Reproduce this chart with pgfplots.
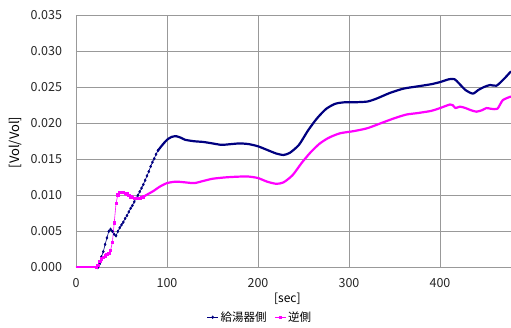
\documentclass[border=0pt]{standalone}
\usepackage{fontspec}
\setmainfont{Noto Sans CJK JP}
\usepackage{pgfplots}
\pgfplotsset{compat=1.18}
\definecolor{navyb}{RGB}{0,0,128}
\definecolor{mag}{RGB}{255,0,255}
\begin{document}
\begin{tikzpicture}
\path[use as bounding box] (-76pt,-59.5pt) rectangle (435pt,267.5pt);
\begin{axis}[
  at={(0,0)}, anchor=south west,
  scale only axis, width=435pt, height=252.5pt,
  xmin=0, xmax=478, ymin=0, ymax=0.035,
  xtick={0,100,200,300,400},
  ytick={0,0.005,0.010,0.015,0.020,0.025,0.030,0.035},
  scaled y ticks=false,
  yticklabel style={/pgf/number format/fixed,/pgf/number format/fixed zerofill,/pgf/number format/precision=3,xshift=-10.5pt},
  xticklabel style={yshift=-7.5pt},
  /pgf/number format/assume math mode=true,
  ticklabel style={font=\fontsize{12.5}{14}\selectfont, text=black!85},
  major tick length=0pt,
  grid=major,
  major grid style={draw=black!40, line width=0.7pt},
  axis line style={draw=none},
  xlabel={[sec]},
  xlabel style={at={(axis description cs:0.486,-0.122)}, anchor=center, font=\fontsize{12}{14}\selectfont},
  ylabel={[Vol/Vol]},
  ylabel style={at={(axis description cs:-0.14,0.495)}, anchor=center, font=\fontsize{13}{15}\selectfont},
  legend style={at={(axis description cs:0.423,-0.197)}, anchor=center, draw=none, fill=none, font=\fontsize{11.5}{13}\selectfont, legend columns=2, inner sep=1pt, /tikz/every even column/.append style={column sep=6pt}},
  legend image code/.code={\draw[#1] (0pt,0pt) -- (11pt,0pt); \path[#1, only marks] plot coordinates {(5.5pt,0pt)};},
  clip=true,
]
% blue steep section with markers
\addplot[navyb, line width=0.6pt, mark=diamond*, mark size=1.3pt] coordinates {
(24,0.0000)(26,0.0005)(28,0.0015)(30,0.0022)(32,0.0032)(34,0.0041)(36,0.0050)(38,0.0053)(40,0.0050)(42,0.0046)(44,0.0044)(46,0.0050)(48,0.0055)(50,0.0059)(52,0.0063)(54,0.0068)(56,0.0072)(58,0.0077)(60,0.0082)(62,0.0086)(64,0.0091)(66,0.0096)(68,0.0100)(70,0.0105)(72,0.0110)(74,0.0115)(76,0.0121)(78,0.0127)(80,0.0133)(82,0.0140)(84,0.0146)(86,0.0151)(88,0.0157)(90,0.0162)
};
\addlegendentry{給湯器側}
% magenta steep section with markers
\addplot[mag, line width=0.6pt, mark=square*, mark size=1.2pt] coordinates {
(22,0.0000)(24,0.0003)(26,0.0009)(28,0.0012)(30,0.0014)(32,0.0016)(34,0.0018)(36,0.0020)(38,0.0024)(40,0.0035)(42,0.0062)(44,0.0089)(46,0.0101)(48,0.0104)(50,0.0104)(52,0.0104)(54,0.0103)(56,0.0102)(58,0.0100)(60,0.0098)(62,0.0097)(64,0.0096)(66,0.0096)(68,0.0096)(70,0.0096)(72,0.0097)(74,0.0098)
};
\addlegendentry{逆側}
% thick smooth parts
\addplot[forget plot, navyb, line width=2.2pt, line join=round] coordinates {(0,0)(24,0)};
\addplot[forget plot, navyb, line width=2.2pt, line join=round, smooth, tension=0.4] coordinates {
(90,0.0162)(95,0.0170)(100,0.0177)(105,0.0181)(110,0.0182)(115,0.0180)(120,0.0177)(130,0.0175)(140,0.0174)(150,0.0172)(160,0.0170)(170,0.0171)(180,0.0172)(190,0.0171)(200,0.0168)(210,0.0163)(220,0.0158)(228,0.0156)(235,0.0159)(245,0.0170)(255,0.0190)(265,0.0207)(275,0.0220)(285,0.0227)(295,0.0229)(305,0.0229)(320,0.0230)(330,0.0234)(345,0.0242)(360,0.0248)(375,0.0251)(390,0.0254)(400,0.0257)(410,0.0261)(416,0.0261)(421,0.0255)(428,0.0246)(436,0.0241)(442,0.0246)(448,0.0250)(455,0.0253)(462,0.0252)(470,0.0261)(478,0.0272)
};
\addplot[forget plot, mag, line width=2.2pt, line join=round] coordinates {(0,0)(22,0)};
\addplot[forget plot, mag, line width=2.2pt, line join=round, smooth, tension=0.4] coordinates {
(74,0.0098)(78,0.0101)(85,0.0106)(92,0.0112)(100,0.0117)(110,0.0119)(120,0.0118)(130,0.0117)(140,0.0120)(150,0.0123)(165,0.0125)(180,0.0126)(190,0.0126)(200,0.0124)(210,0.0119)(220,0.0116)(228,0.0118)(238,0.0128)(248,0.0145)(258,0.0160)(268,0.0172)(278,0.0180)(290,0.0186)(305,0.0189)(320,0.0193)(335,0.0200)(350,0.0207)(363,0.0212)(375,0.0214)(390,0.0217)(400,0.0221)(411,0.0226)(414,0.0225)(417,0.0221)(422,0.0223)(428,0.0221)(434,0.0218)(440,0.0216)(446,0.0218)(451,0.0221)(456,0.0220)(463,0.0220)(469,0.0232)(478,0.0237)
};
\end{axis}
\end{tikzpicture}
\end{document}
